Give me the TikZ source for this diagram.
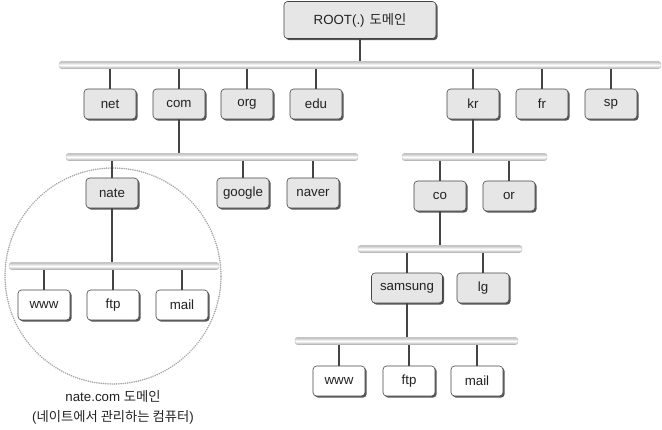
\documentclass[tikz,border=0pt]{standalone}
\usepackage{fontspec}
\setmainfont{Liberation Sans}
\newfontfamily\kr{Noto Sans CJK KR}
\usetikzlibrary{shadows}
\definecolor{boxfill}{HTML}{E6E6E6}
\definecolor{edge}{HTML}{444444}
\definecolor{txt}{HTML}{222222}
\tikzset{
  dom/.style={rectangle, rounded corners=3.5pt, draw=edge, line width=0.6pt, fill=boxfill,
    minimum width=52pt, minimum height=30pt, inner sep=0pt, text=txt,
    font=\fontsize{13.3}{15}\selectfont,
    drop shadow={shadow xshift=1.6pt, shadow yshift=-1.6pt, fill=edge, opacity=0.9}},
  leaf/.style={dom, fill=white},
  bar/.style={rectangle, rounded corners=3pt, minimum height=7.5pt, inner sep=0pt,
    top color=gray!55, bottom color=gray!65, middle color=white, draw=gray!60, line width=0.3pt},
  link/.style={draw=edge, line width=1.7pt},
  caption/.style={text=txt, font=\fontsize{13.3}{15}\selectfont},
}
\begin{document}
\begin{tikzpicture}[x=1pt, y=-1pt]
\useasboundingbox (0,0) rectangle (662,429);
% zone circle
\node[circle, draw=gray!70, line width=1.7pt, dash pattern=on 0.1pt off 2.1pt, line cap=round,
  minimum size=216pt, inner sep=0pt] (zone) at (113,276) {};
% bars
\node[bar, minimum width=602pt] (b0) at (360,65) {};
\node[bar, minimum width=292pt] (bcom) at (212,157) {};
\node[bar, minimum width=145pt] (bkr) at (474.5,157) {};
\node[bar, minimum width=164pt] (bco) at (440,249) {};
\node[bar, minimum width=223pt] (bsam) at (406.5,341) {};
\node[bar, minimum width=210pt] (bnate) at (114,266) {};
% nodes
\node[dom, minimum width=152pt, minimum height=37pt] (root) at (360,20) {ROOT(.) {\kr 도메인}};
\node[dom] (net) at (110,104) {net};
\node[dom] (com) at (179,104) {com};
\node[dom] (org) at (247,104) {org};
\node[dom] (edu) at (316,104) {edu};
\node[dom] (kr) at (473,104) {kr};
\node[dom] (fr) at (542,104) {fr};
\node[dom] (sp) at (611,104) {sp};
\node[dom] (nate) at (112,193) {nate};
\node[dom] (google) at (243,193) {google};
\node[dom] (naver) at (313,193) {naver};
\node[dom] (co) at (440,196) {co};
\node[dom] (or) at (509,196) {or};
\node[dom, minimum width=71pt] (samsung) at (407,288) {samsung};
\node[dom] (lg) at (483,288) {lg};
\node[leaf] (www2) at (339,381) {www};
\node[leaf] (ftp2) at (409,381) {ftp};
\node[leaf] (mail2) at (477,381) {mail};
\node[leaf] (www1) at (44,305) {www};
\node[leaf] (ftp1) at (113,305) {ftp};
\node[leaf] (mail1) at (182,305) {mail};
% caption
\node[caption] (cap1) at (113,397) {nate.com {\kr 도메인}};
\node[caption] (cap2) at (113,417) {({\kr 네이트에서 관리하는 컴퓨터})};
% links parent -> bar
\foreach \p/\b in {root/b0, com/bcom, kr/bkr, co/bco, samsung/bsam, nate/bnate}
  \draw[link] (\p.south) -- (\p.south |- \b.north);
% links bar -> child
\foreach \c/\b in {net/b0, com/b0, org/b0, edu/b0, kr/b0, fr/b0, sp/b0,
                   nate/bcom, google/bcom, naver/bcom, co/bkr, or/bkr,
                   samsung/bco, lg/bco, www2/bsam, ftp2/bsam, mail2/bsam,
                   www1/bnate, ftp1/bnate, mail1/bnate}
  \draw[link] (\c.north) -- (\c.north |- \b.south);
\end{tikzpicture}
\end{document}
